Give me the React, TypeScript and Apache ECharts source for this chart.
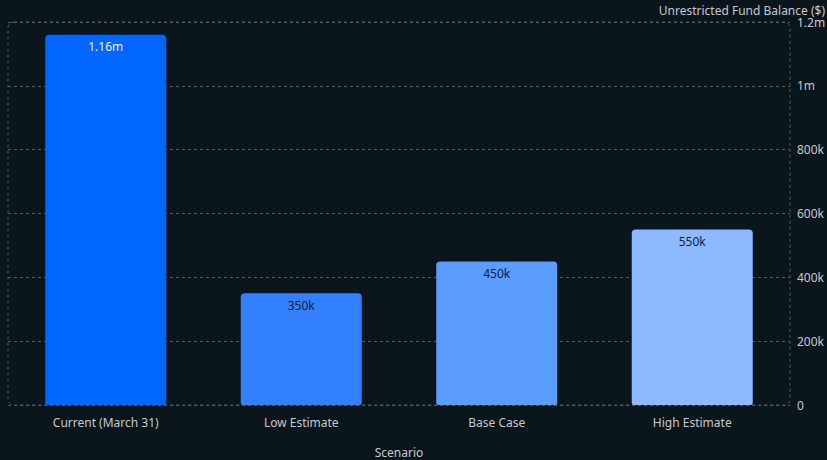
import React, { useEffect, useRef } from "react";
import * as echarts from "echarts";

const categories = ["Current (March 31)", "Low Estimate", "Base Case", "High Estimate"];
const values = [1160000, 350000, 450000, 550000];
const barColors = ["#0066ff", "#3381ff", "#5c9bff", "#8cb9ff"];
const labelColors = ["#e8f0ff", "#0d1f3a", "#0d1f3a", "#0d1f3a"];
const yTicks = { min: 0, max: 1200000, interval: 200000 };

function fmtAxis(v: number): string {
  if (v === 0) return "0";
  if (v >= 1000000) return `${+(v / 1000000).toFixed(2)}m`;
  return `${v / 1000}k`;
}
function fmtLabel(v: number): string {
  if (v >= 1000000) return `${(v / 1000000).toFixed(2)}m`;
  return `${v / 1000}k`;
}

export default function App() {
  const ref = useRef<HTMLDivElement>(null);
  useEffect(() => {
    document.body.style.margin = "0";
    const chart = echarts.init(ref.current!, null, { renderer: "svg" });
    const font = "'Noto Sans', 'Open Sans', sans-serif";
    chart.setOption({
      animation: false,
      backgroundColor: "#0b161c",
      textStyle: { fontFamily: font },
      grid: { left: 8, right: 37, top: 22, bottom: 55, containLabel: false, outerBoundsMode: "none" },
      graphic: [
        {
          type: "rect",
          shape: { x: 8, y: 22, width: 782, height: 383, r: 6 },
          style: { fill: "none", stroke: "#4e5a66", lineWidth: 1, lineDash: [3, 3] },
          silent: true,
          z: 0,
        },
        {
          type: "text",
          right: 2,
          top: 4,
          style: {
            text: "Unrestricted Fund Balance ($)",
            fill: "#c3c9cf",
            font: `12px ${font}`,
          },
        },
      ],
      xAxis: {
        type: "category",
        data: categories,
        name: "Scenario",
        nameLocation: "middle",
        nameGap: 41,
        nameTextStyle: { color: "#c3c9cf", fontSize: 12, fontFamily: font },
        axisLine: { show: false },
        axisTick: { show: false },
        axisLabel: { color: "#c3c9cf", fontSize: 12, margin: 11, fontFamily: font },
      },
      yAxis: {
        type: "value",
        position: "right",
        min: yTicks.min,
        max: yTicks.max,
        interval: yTicks.interval,
        axisLine: { show: false },
        axisTick: { show: false },
        axisLabel: {
          color: "#c3c9cf",
          fontSize: 12,
          margin: 7,
          fontFamily: font,
          formatter: (v: number) => fmtAxis(v),
        },
        splitLine: {
          show: true,
          lineStyle: { color: "#4e5a66", type: [3, 3], width: 1 },
        },
      },
      series: [
        {
          type: "bar",
          barWidth: 121,
          data: values.map((v, i) => ({
            value: v,
            itemStyle: { color: barColors[i], borderRadius: [4, 4, 2, 2] },
            label: { color: labelColors[i] },
          })),
          label: {
            show: true,
            position: "insideTop",
            distance: 6,
            fontSize: 12,
            fontFamily: font,
            formatter: (p: any) => fmtLabel(p.value),
          },
          z: 2,
        },
      ],
    });
    return () => chart.dispose();
  }, []);
  return <div ref={ref} style={{ width: 827, height: 460 }} />;
}
